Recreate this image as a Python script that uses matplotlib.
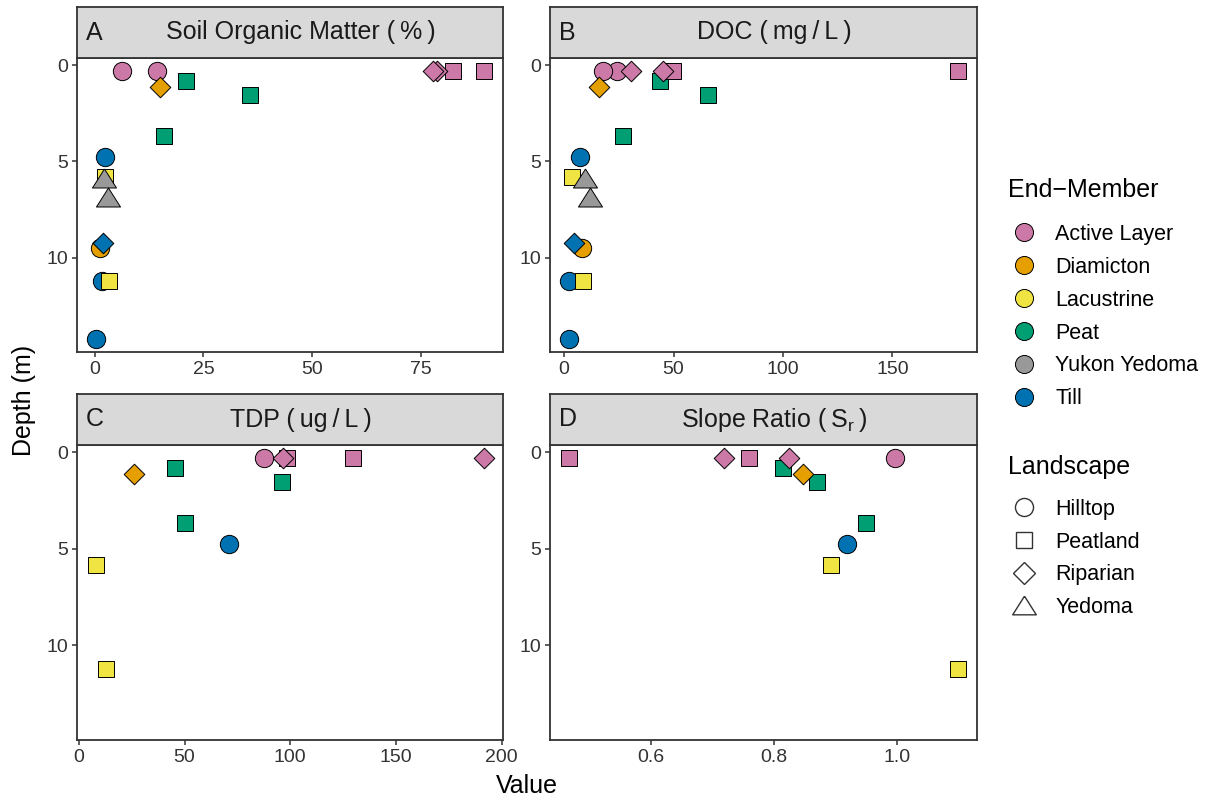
import numpy as np
import matplotlib
matplotlib.use("Agg")
import matplotlib.pyplot as plt
from matplotlib.lines import Line2D

plt.rcParams['font.family'] = ['Liberation Sans', 'DejaVu Sans']
plt.rcParams['mathtext.default'] = 'regular'

# one entry per sample, in drawing order
member = ['Diamicton', 'Till', 'Lacustrine', 'Peat', 'Peat', 'Peat',
          'Active Layer', 'Active Layer', 'Active Layer', 'Active Layer',
          'Active Layer', 'Active Layer', 'Diamicton', 'Till',
          'Yukon Yedoma', 'Yukon Yedoma', 'Till', 'Lacustrine', 'Till']
landscape = ['Hilltop', 'Hilltop', 'Peatland', 'Peatland', 'Peatland', 'Peatland',
             'Hilltop', 'Hilltop', 'Peatland', 'Peatland',
             'Riparian', 'Riparian', 'Riparian', 'Hilltop',
             'Yedoma', 'Yedoma', 'Riparian', 'Peatland', 'Hilltop']
depth = [9.5, 11.2, 5.82, 0.81, 1.54, 3.68,
         0.33, 0.33, 0.33, 0.33,
         0.33, 0.33, 1.12, 4.78,
         5.85, 6.85, 9.24, 11.2, 14.2]
som = [1.15, 1.8, 2.3, 21.1, 35.6, 16.0,
       14.3, 6.4, 82.4, 89.4,
       78.7, 77.8, 15.0, 2.3,
       2.1, 3.0, 1.9, 3.2, 0.4]
doc = [8.1, 2.4, 3.5, 43.8, 65.9, 27.1,
       24.0, 17.9, 49.9, 179.8,
       45.0, 30.4, 16.1, 7.3,
       9.6, 11.6, 4.3, 8.5, 2.4]
tdp = [np.nan, np.nan, 8.3, 45.3, 95.9, 50.0,
       np.nan, 87.7, 98.7, 129.7,
       96.8, 191.5, 25.9, 70.9,
       np.nan, np.nan, np.nan, 13.0, np.nan]
sr = [np.nan, np.nan, 0.893, 0.815, 0.869, 0.950,
      np.nan, 0.997, 0.759, 0.4675,
      0.824, 0.719, 0.847, 0.918,
      np.nan, np.nan, np.nan, 1.098, np.nan]

member_names = ['Active Layer', 'Diamicton', 'Lacustrine', 'Peat', 'Yukon Yedoma', 'Till']
member_colors = ['#CC79A7', '#E69F00', '#F0E442', '#009E73', '#999999', '#0072B2']
landscape_names = ['Hilltop', 'Peatland', 'Riparian', 'Yedoma']

ts = '\u2009'
panels = [('A', 'Soil Organic Matter (' + ts + '%' + ts + ')', som,
           [0, 25, 50, 75], ['0', '25', '50', '75']),
          ('B', 'DOC (' + ts + 'mg' + ts + '/' + ts + 'L' + ts + ')', doc,
           [0, 50, 100, 150], ['0', '50', '100', '150']),
          ('C', 'TDP (' + ts + 'ug' + ts + '/' + ts + 'L' + ts + ')', tdp,
           [0, 50, 100, 150, 200], ['0', '50', '100', '150', '200']),
          ('D', 'Slope Ratio (' + ts + 'S$_r$' + ts + ')', sr,
           [0.6, 0.8, 1.0], ['0.6', '0.8', '1.0'])]

tri = [(0, 0.79), (-1, -0.79), (1, -0.79), (0, 0.79)]
shape_marker = {'Hilltop': ('o', 174), 'Peatland': ('s', 133),
                'Riparian': ('D', 110), 'Yedoma': (tri, 300)}
color_of = dict(zip(member_names, member_colors))

W, H = 1208, 800
fig = plt.figure(figsize=(W / 100, H / 100), dpi=100)


def px_axes(x0, y0, x1, y1):
    return fig.add_axes([x0 / W, 1 - y1 / H, (x1 - x0) / W, (y1 - y0) / H])


boxes = [(77, 503, 7, 58, 352), (550, 977, 7, 58, 352),
         (77, 503, 394, 445, 740), (550, 977, 394, 445, 740)]
edge = '#333333'

d = np.array(depth)
dlo, dhi = d.min(), d.max()
dpad = 0.05 * (dhi - dlo)

for (letter, title, vals, ticks, labels), (x0, x1, ys, yp, yb) in zip(panels, boxes):
    ax = px_axes(x0, yp, x1, yb)
    v = np.array(vals, dtype=float)
    for i in range(len(v)):
        if np.isnan(v[i]):
            continue
        mk, s = shape_marker[landscape[i]]
        ax.scatter(v[i], depth[i], marker=mk, s=s, c=color_of[member[i]],
                   edgecolors='black', linewidths=0.7, zorder=2 + i * 0.01)
    vlo, vhi = np.nanmin(v), np.nanmax(v)
    pad = 0.05 * (vhi - vlo)
    ax.set_xlim(vlo - pad, vhi + pad)
    ax.set_ylim(dhi + dpad, dlo - dpad)
    ax.set_xticks(ticks)
    ax.set_xticklabels(labels)
    ax.set_yticks([0, 5, 10])
    ax.set_yticklabels(['0', '5', '10'])
    for sp in ax.spines.values():
        sp.set_color(edge)
        sp.set_linewidth(1.3)
    ax.tick_params(direction='out', length=3.5, width=1.1, color=edge,
                   labelsize=14, labelcolor='#333333', pad=3)

    st = px_axes(x0, ys, x1, yp)
    st.set_facecolor('#D9D9D9')
    st.set_xticks([])
    st.set_yticks([])
    for sp in st.spines.values():
        sp.set_color(edge)
        sp.set_linewidth(1.3)
    st.text(0.02, 0.5, letter, transform=st.transAxes, ha='left', va='center',
            fontsize=18, color='#1A1A1A')
    st.text(0.525, 0.5, title, transform=st.transAxes, ha='center', va='center',
            fontsize=18, color='#1A1A1A')

fig.text(527 / W, 1 - 786 / H, 'Value', ha='center', va='center', fontsize=18)
fig.text(24 / W, 0.5, 'Depth (m)', ha='center', va='center', rotation=90, fontsize=18)

# legend titles drawn separately so the gap to the keys can be set
fig.text(1008 / W, 1 - 190 / H, 'End\u2212Member', ha='left', va='center', fontsize=18)
fig.text(1008 / W, 1 - 467 / H, 'Landscape', ha='left', va='center', fontsize=18)

mh = [Line2D([], [], ls='none', marker='o', ms=13, mfc=c, mec='black', mew=0.7)
      for c in member_colors]
fig.legend(mh, member_names, loc='upper left',
           bbox_to_anchor=(1008 / W, 1 - 224 / H), frameon=False,
           fontsize=15.5, borderpad=0, borderaxespad=0, labelspacing=0.55,
           handlelength=1.5, handletextpad=0.7)

lh = [Line2D([], [], ls='none', marker='o', ms=13, mfc='white', mec=edge, mew=1.0),
      Line2D([], [], ls='none', marker='s', ms=11, mfc='white', mec=edge, mew=1.0),
      Line2D([], [], ls='none', marker='D', ms=11.5, mfc='white', mec=edge, mew=1.0),
      Line2D([], [], ls='none', marker=tri, ms=17, mfc='white', mec=edge, mew=1.0)]
fig.legend(lh, landscape_names, loc='upper left',
           bbox_to_anchor=(1008 / W, 1 - 499 / H), frameon=False,
           fontsize=15.5, borderpad=0, borderaxespad=0, labelspacing=0.54,
           handlelength=1.5, handletextpad=0.7)

fig.savefig('out.png', dpi=100)
